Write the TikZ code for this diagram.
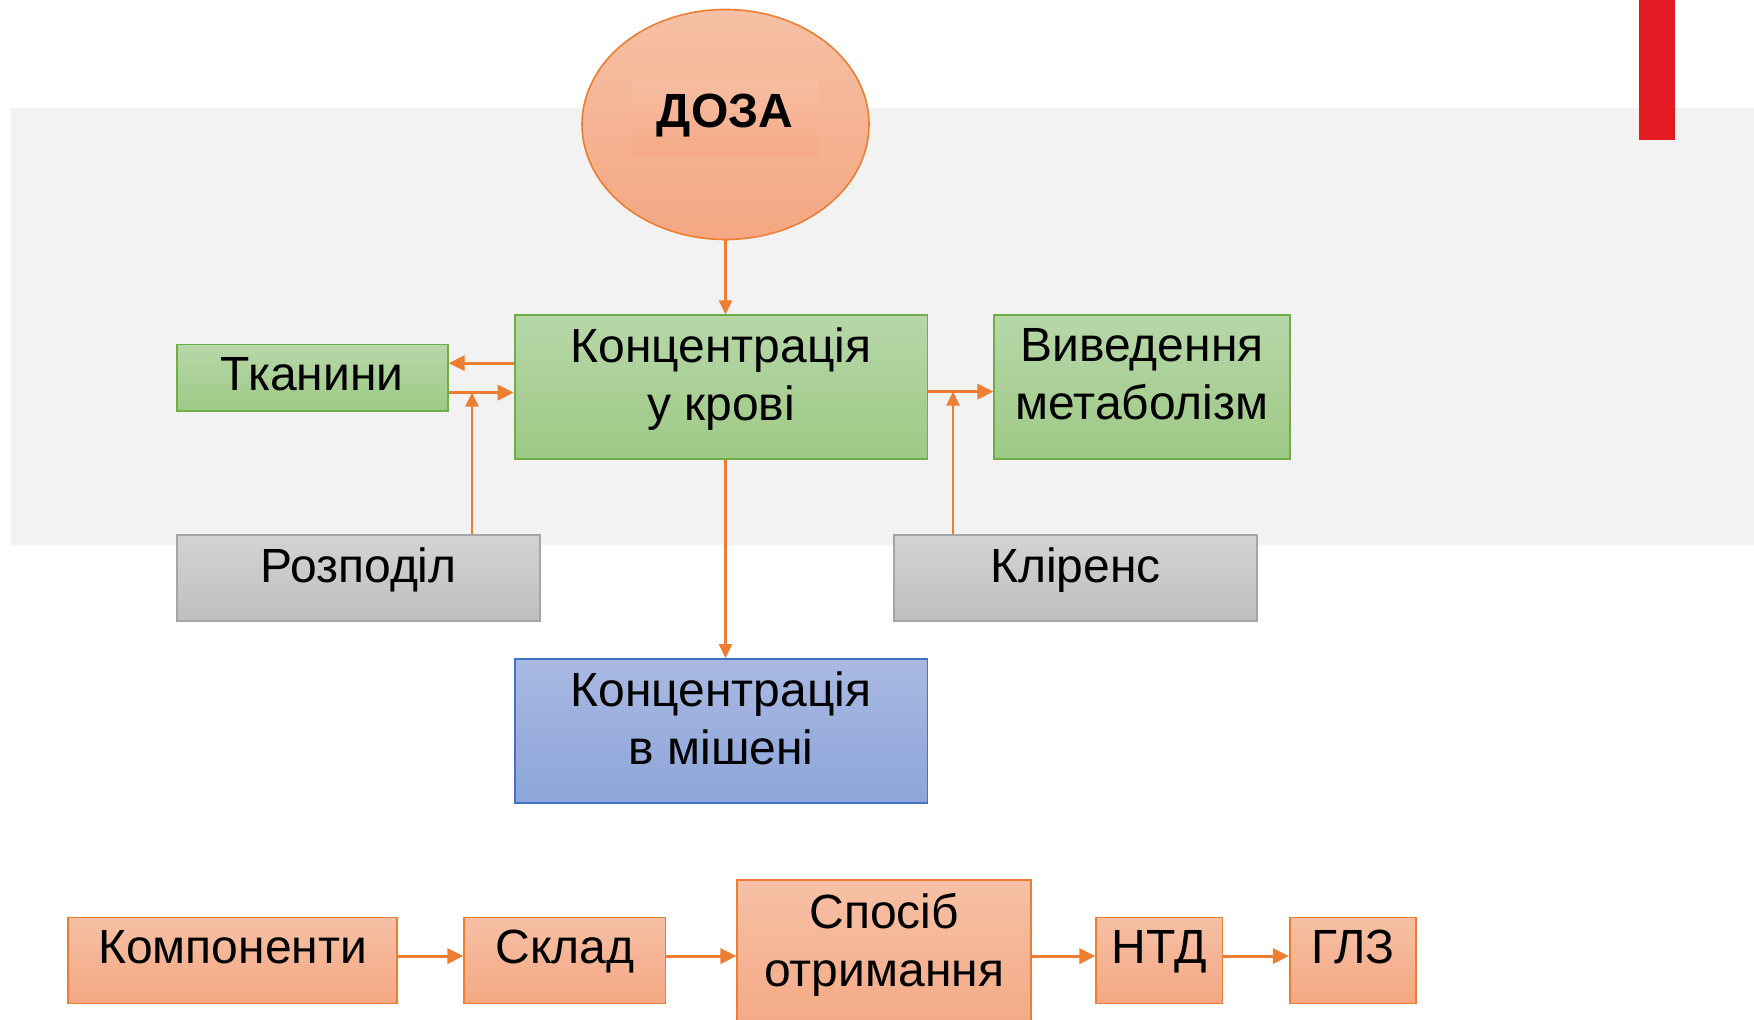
\documentclass[tikz,border=0pt]{standalone}
\usepackage{fontspec}
\setmainfont{Liberation Sans}
\usetikzlibrary{shapes.geometric,arrows.meta}

\definecolor{lineorange}{RGB}{237,125,49}
\definecolor{greentop}{RGB}{183,215,168}
\definecolor{greenbot}{RGB}{157,201,133}
\definecolor{greenline}{RGB}{112,173,71}
\definecolor{graytop}{RGB}{211,211,211}
\definecolor{graybot}{RGB}{191,191,191}
\definecolor{grayline}{RGB}{165,165,165}
\definecolor{bluetop}{RGB}{169,185,226}
\definecolor{bluebot}{RGB}{140,165,217}
\definecolor{blueline}{RGB}{68,114,196}
\definecolor{salmontop}{RGB}{246,192,165}
\definecolor{salmonbot}{RGB}{244,167,130}
\definecolor{bandgray}{RGB}{242,242,242}
\definecolor{barred}{RGB}{227,26,34}

\begin{document}
\begin{tikzpicture}[x=0.5pt,y=-0.5pt,
  greenbox/.style={draw=greenline, line width=0.9pt, top color=greentop, bottom color=greenbot, inner sep=0pt},
  graybox/.style={draw=grayline, line width=0.9pt, top color=graytop, bottom color=graybot, inner sep=0pt},
  bluebox/.style={draw=blueline, line width=0.9pt, top color=bluetop, bottom color=bluebot, inner sep=0pt},
  salmonbox/.style={draw=lineorange, line width=0.8pt, top color=salmontop, bottom color=salmonbot, inner sep=0pt},
  lbl/.style={anchor=north, inner xsep=0pt, inner ysep=6.6pt, align=center, font=\fontsize{24}{29}\selectfont},
  thinarrow/.style={draw=lineorange, line width=1.1pt, -{Triangle[length=7pt,width=6.5pt]}},
  fatarrow/.style={draw=lineorange, line width=1.6pt, -{Triangle[length=8pt,width=7.5pt]}}]
\useasboundingbox (0,0) rectangle (1754,1020);
\clip (0,0) rectangle (1754,1020);

%Shape: Rectangle (background band)
\fill[bandgray] (11,108) rectangle (1754,545);
%Shape: Rectangle (red bar)
\fill[barred] (1639,0) rectangle (1675,140);

%Shape: Ellipse
\node[ellipse, salmonbox, minimum width=143.5pt, minimum height=115pt] (dose) at (725.5,124.5) {};
\node[inner sep=0pt, minimum width=93pt, minimum height=38.5pt, text height=17.2pt, text depth=8pt, top color={rgb,255:red,247;green,190;blue,163}, bottom color={rgb,255:red,244;green,169;blue,133}, font=\bfseries\fontsize{24}{29}\selectfont] (dosetxt) at (725,118.5) {ДОЗА};

%Shape: Rectangles (upper scheme)
\node[greenbox, minimum width=206.4pt, minimum height=71.8pt] (blood) at (721,387.2) {};
\node[greenbox, minimum width=135.5pt, minimum height=33.3pt] (tissue) at (312.2,377.8) {};
\node[greenbox, minimum width=147.7pt, minimum height=71.8pt] (excr) at (1142,387.2) {};
\node[graybox, minimum width=181.8pt, minimum height=43pt] (distr) at (358.5,578) {};
\node[graybox, minimum width=181.8pt, minimum height=43pt] (clear) at (1075.5,578) {};
\node[bluebox, minimum width=206.4pt, minimum height=72pt] (target) at (721,731) {};

\node[lbl] (bloodtxt) at (blood.north) {Концентрація\\у крові};
\node[lbl] (tissuetxt) at (tissue.north) {Тканини};
\node[lbl] (excrtxt) at (excr.north) {Виведення\\метаболізм};
\node[lbl] (distrtxt) at (distr.north) {Розподіл};
\node[lbl] (cleartxt) at (clear.north) {Кліренс};
\node[lbl] (targettxt) at (target.north) {Концентрація\\в мішені};

%Shape: Rectangles (lower chain)
\node[salmonbox, minimum width=164.4pt, minimum height=43pt] (comp) at (232.6,960.5) {};
\node[salmonbox, minimum width=100.7pt, minimum height=43pt] (sklad) at (564.9,960.5) {};
\node[salmonbox, minimum width=147pt, minimum height=80.5pt] (method) at (884.2,960.5) {};
\node[salmonbox, minimum width=63.2pt, minimum height=43pt] (ntd) at (1159.4,960.5) {};
\node[salmonbox, minimum width=63.2pt, minimum height=43pt] (glz) at (1352.9,960.5) {};

\node[lbl] (comptxt) at (comp.north) {Компоненти};
\node[lbl] (skladtxt) at (sklad.north) {Склад};
\node[lbl, inner ysep=7pt] (methodtxt) at (method.north) {Спосіб\\отримання};
\node[lbl] (ntdtxt) at (ntd.north) {НТД};
\node[lbl] (glztxt) at (glz.north) {ГЛЗ};

%Straight Lines
\draw[thinarrow] (dose.south) -- (dose.south |- blood.north);
\draw[thinarrow] (dose.south |- blood.south) -- (dose.south |- target.north);

\coordinate (tout) at ([yshift=7.3pt]tissue.east);
\coordinate (tin) at ([yshift=-7.4pt]tissue.east);
\draw[fatarrow] (tout -| blood.west) -- (tout);
\draw[fatarrow] (tin) -- (tin -| blood.west);
\coordinate (dup) at ([xshift=56.75pt]distr.north);
\draw[thinarrow] (dup) -- (dup |- tin);

\coordinate (bout) at ([yshift=-2.2pt]blood.east);
\draw[fatarrow] (bout) -- (bout -| excr.west);
\coordinate (cup) at ([xshift=-61.25pt]clear.north);
\draw[thinarrow] (cup) -- (cup |- bout);

\draw[fatarrow] ([yshift=2.2pt]comp.east) -- ([yshift=2.2pt]sklad.west);
\draw[fatarrow] ([yshift=2.2pt]sklad.east) -- ([yshift=2.2pt]method.west);
\draw[fatarrow] ([yshift=2.2pt]method.east) -- ([yshift=2.2pt]ntd.west);
\draw[fatarrow] ([yshift=2.2pt]ntd.east) -- ([yshift=2.2pt]glz.west);

\end{tikzpicture}
\end{document}
